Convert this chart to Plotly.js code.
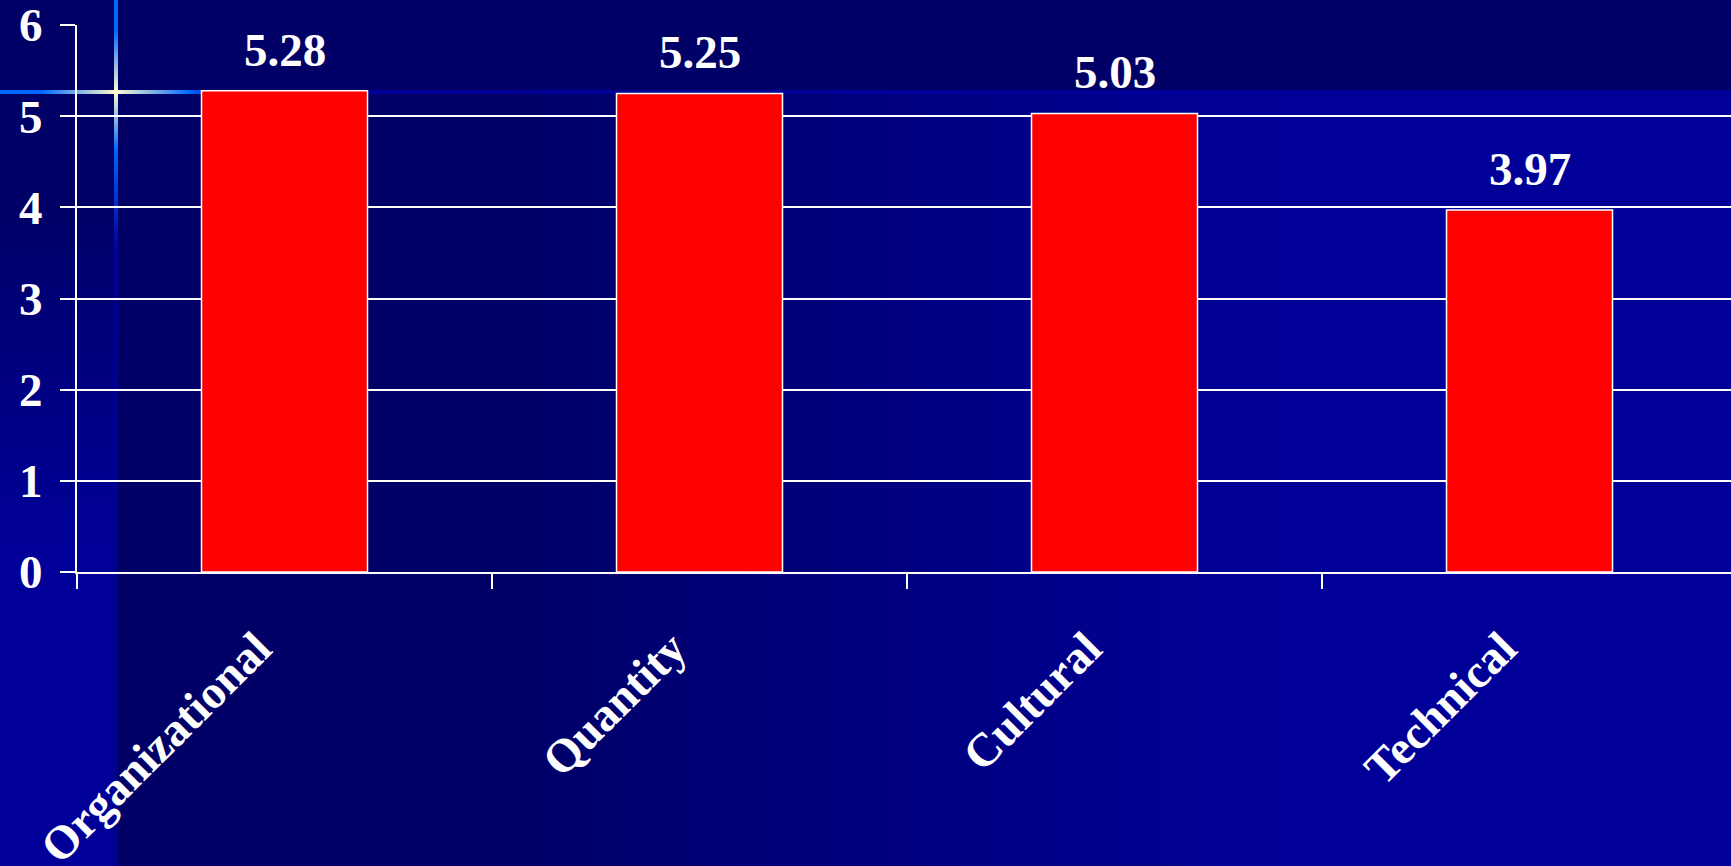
<!DOCTYPE html>
<html><head><meta charset="utf-8">
<script src="https://cdn.plot.ly/plotly-3.0.1.min.js"></script>
<style>
html,body{margin:0;padding:0;width:1731px;height:866px;overflow:hidden;background:#000066;}
.layer{position:absolute;}
#bg{left:0;top:0;width:1731px;height:866px;background:linear-gradient(to right,#000066 0px,#000066 480px,#000099 1300px,#000099 1731px);}
#band{left:0;top:0;width:1731px;height:94px;background:#000066;}
#strip{left:0;top:94px;width:115px;height:772px;background:linear-gradient(to bottom,#000066 0px,#000066 100px,#000099 460px,#000099 100%);}
#hline{left:0;top:90px;width:1731px;height:4px;background:linear-gradient(to right,#0066ff 0px,#0066ff 40px,#ffffcc 116px,#0066ff 190px,#000099 230px,#000099 100%);}
#vline{left:114px;top:0;width:4px;height:866px;background:linear-gradient(to bottom,#0066ff 0px,#0066ff 30px,#ffffcc 92px,#0066ff 150px,#000099 250px,#000088 100%);}
#chart{left:0;top:0;width:1731px;height:866px;}
</style></head>
<body>
<div id="bg" class="layer"></div>
<div id="band" class="layer"></div>
<div id="strip" class="layer"></div>
<div id="hline" class="layer"></div>
<div id="vline" class="layer"></div>
<div id="chart" class="layer"></div>
<script>
const categories = ['Organizational', 'Quantity', 'Cultural', 'Technical'];
const values = [5.28, 5.25, 5.03, 3.97];
const valueLabels = ['5.28', '5.25', '5.03', '3.97'];
const yTickVals = [0, 1, 2, 3, 4, 5, 6];
const yTickText = ['0', '1', '2', '3', '4', '5', '6'];

const font = {family: 'Liberation Serif, Times New Roman, serif', size: 47, color: '#ffffff', weight: 'bold'};

const trace = {
  type: 'bar',
  x: categories,
  y: values,
  width: 0.4,
  marker: {color: '#ff0000', line: {color: '#ffffff', width: 1.5}},
  hoverinfo: 'none'
};

const annotations = categories.map((c, i) => ({
  x: c, y: values[i], xref: 'x', yref: 'y',
  text: valueLabels[i], showarrow: false,
  yanchor: 'middle', xanchor: 'center', yshift: 41,
  font: font
}));

const layout = {
  width: 1731, height: 866,
  margin: {l: 77, r: 0, t: 25, b: 294, pad: 0},
  paper_bgcolor: 'rgba(0,0,0,0)',
  plot_bgcolor: 'rgba(0,0,0,0)',
  showlegend: false,
  xaxis: {
    type: 'category',
    range: [-0.5, 3.4855],
    showline: true, linecolor: '#ffffff', linewidth: 2,
    ticks: 'outside', ticklen: 15, tickwidth: 2, tickcolor: '#ffffff',
    tickson: 'boundaries',
    tickangle: -45,
    ticklabelshift: -27,
    ticklabelstandoff: 28,
    ticklabeloverflow: 'allow',
    tickfont: font,
    showgrid: false, zeroline: false
  },
  yaxis: {
    range: [0, 6],
    tickvals: yTickVals, ticktext: yTickText,
    showline: true, linecolor: '#ffffff', linewidth: 2,
    ticks: 'outside', ticklen: 15, tickwidth: 2, tickcolor: '#ffffff',
    ticklabelstandoff: 8,
    ticklabeloverflow: 'allow',
    showgrid: true, gridcolor: '#ffffff', gridwidth: 2,
    zeroline: false,
    tickfont: font
  },
  annotations: annotations
};

Plotly.newPlot('chart', [trace], layout, {staticPlot: true, displayModeBar: false});
</script>
</body></html>
